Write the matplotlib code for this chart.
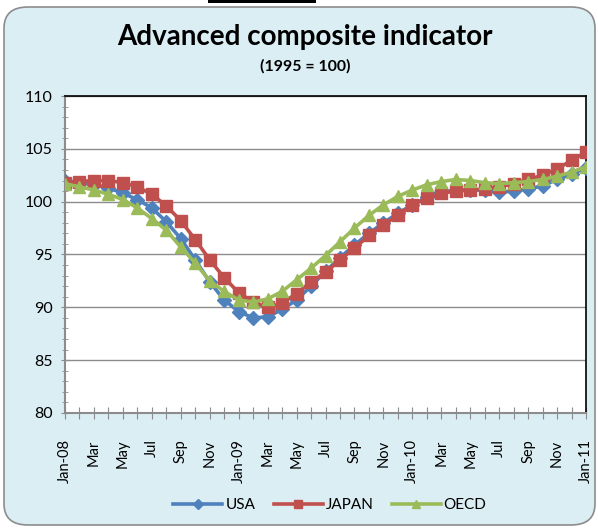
import numpy as np
import matplotlib
matplotlib.use('Agg')
import matplotlib.pyplot as plt
from matplotlib.patches import FancyBboxPatch, Rectangle
from matplotlib.ticker import MultipleLocator

plt.rcParams['font.family'] = ['Lato', 'DejaVu Sans']

# monthly, Jan-08 .. Jan-11
months = ['Jan-08', 'Feb', 'Mar', 'Apr', 'May', 'Jun', 'Jul', 'Aug', 'Sep', 'Oct', 'Nov', 'Dec',
          'Jan-09', 'Feb', 'Mar', 'Apr', 'May', 'Jun', 'Jul', 'Aug', 'Sep', 'Oct', 'Nov', 'Dec',
          'Jan-10', 'Feb', 'Mar', 'Apr', 'May', 'Jun', 'Jul', 'Aug', 'Sep', 'Oct', 'Nov', 'Dec',
          'Jan-11']

usa = [102.0, 101.8, 101.6, 101.3, 100.8, 100.2, 99.4, 98.1, 96.5, 94.5, 92.4, 90.7,
       89.6, 89.0, 89.1, 89.8, 90.7, 92.0, 93.4, 94.7, 95.9, 97.0, 98.0, 98.9,
       99.7, 100.4, 100.9, 101.1, 101.1, 101.1, 100.9, 101.0, 101.2, 101.5, 102.1, 102.6,
       103.2]
japan = [101.8, 101.9, 102.0, 102.0, 101.8, 101.4, 100.7, 99.6, 98.2, 96.4, 94.5, 92.8,
         91.4, 90.5, 90.0, 90.4, 91.3, 92.4, 93.3, 94.5, 95.6, 96.8, 97.8, 98.7,
         99.7, 100.3, 100.8, 101.0, 101.1, 101.2, 101.4, 101.7, 102.1, 102.5, 103.1, 103.9,
         104.7]
oecd = [101.7, 101.4, 101.1, 100.7, 100.2, 99.4, 98.4, 97.3, 95.7, 94.2, 92.5, 91.5,
        90.7, 90.5, 90.8, 91.5, 92.6, 93.7, 94.9, 96.2, 97.5, 98.7, 99.7, 100.5,
        101.1, 101.6, 101.9, 102.1, 102.0, 101.8, 101.7, 101.8, 101.9, 102.1, 102.4, 102.8,
        103.3]

bg = '#DBEEF4'
fig = plt.figure(figsize=(5.98, 5.28), dpi=100)
fig.patch.set_facecolor('white')
frame = FancyBboxPatch((4/598, 3/528), 591/598, 518/528, boxstyle='round,pad=0,rounding_size=0.04',
                       transform=fig.transFigure, facecolor=bg, edgecolor='#8C8C8C', linewidth=1.2,
                       zorder=-5)
fig.patches.append(frame)
fig.patches.append(Rectangle((208/598, 525/528), 108/598, 3/528, transform=fig.transFigure,
                             facecolor='black', edgecolor='none', zorder=-4))

ax = fig.add_axes([65/598, 1 - 413/528, 521/598, 317/528])
x = np.arange(len(months))
ax.plot(x, usa, color='#4F81BD', lw=2.6, marker='D', ms=7, label='USA', zorder=3)
ax.plot(x, japan, color='#C0504D', lw=2.6, marker='s', ms=8, label='JAPAN', zorder=4)
ax.plot(x, oecd, color='#9BBB59', lw=2.6, marker='^', ms=8.5, label='OECD', zorder=5)

ax.set_xlim(0, len(months) - 1)
ax.set_ylim(80, 110)
ax.yaxis.set_major_locator(MultipleLocator(5))
ax.yaxis.set_minor_locator(MultipleLocator(1))
ax.set_xticks(x)
ax.set_xticklabels([m if i % 2 == 0 else '' for i, m in enumerate(months)], rotation=90, fontsize=10.5)
ax.grid(axis='y', which='major', color='#8C8C8C', lw=1)
ax.set_axisbelow(True)
ax.tick_params(axis='y', which='both', direction='inout', length=6, color='#8C8C8C', labelsize=11.5, pad=6)
ax.tick_params(axis='y', which='minor', length=5)
ax.tick_params(axis='x', direction='inout', length=8, color='#8C8C8C', pad=15)
for s in ['left', 'bottom']:
    ax.spines[s].set_color('#8C8C8C')
    ax.spines[s].set_linewidth(1.5)
for s in ['top', 'right']:
    ax.spines[s].set_color('black')
    ax.spines[s].set_linewidth(1.2)

fig.text(305/598, 1 - 37/528, 'Advanced composite indicator', ha='center', va='center',
         fontsize=20, fontweight='bold')
fig.text(305/598, 1 - 66/528, '(1995 = 100)', ha='center', va='center', fontsize=11.4, fontweight='bold')

fig.legend(loc='center', bbox_to_anchor=(330/598, 1 - 505/528), ncol=3, frameon=False,
           fontsize=11, handlelength=3.2, handletextpad=0.2, columnspacing=1.2, markerscale=0.7)

fig.savefig('out.png', dpi=100, facecolor=fig.get_facecolor())
